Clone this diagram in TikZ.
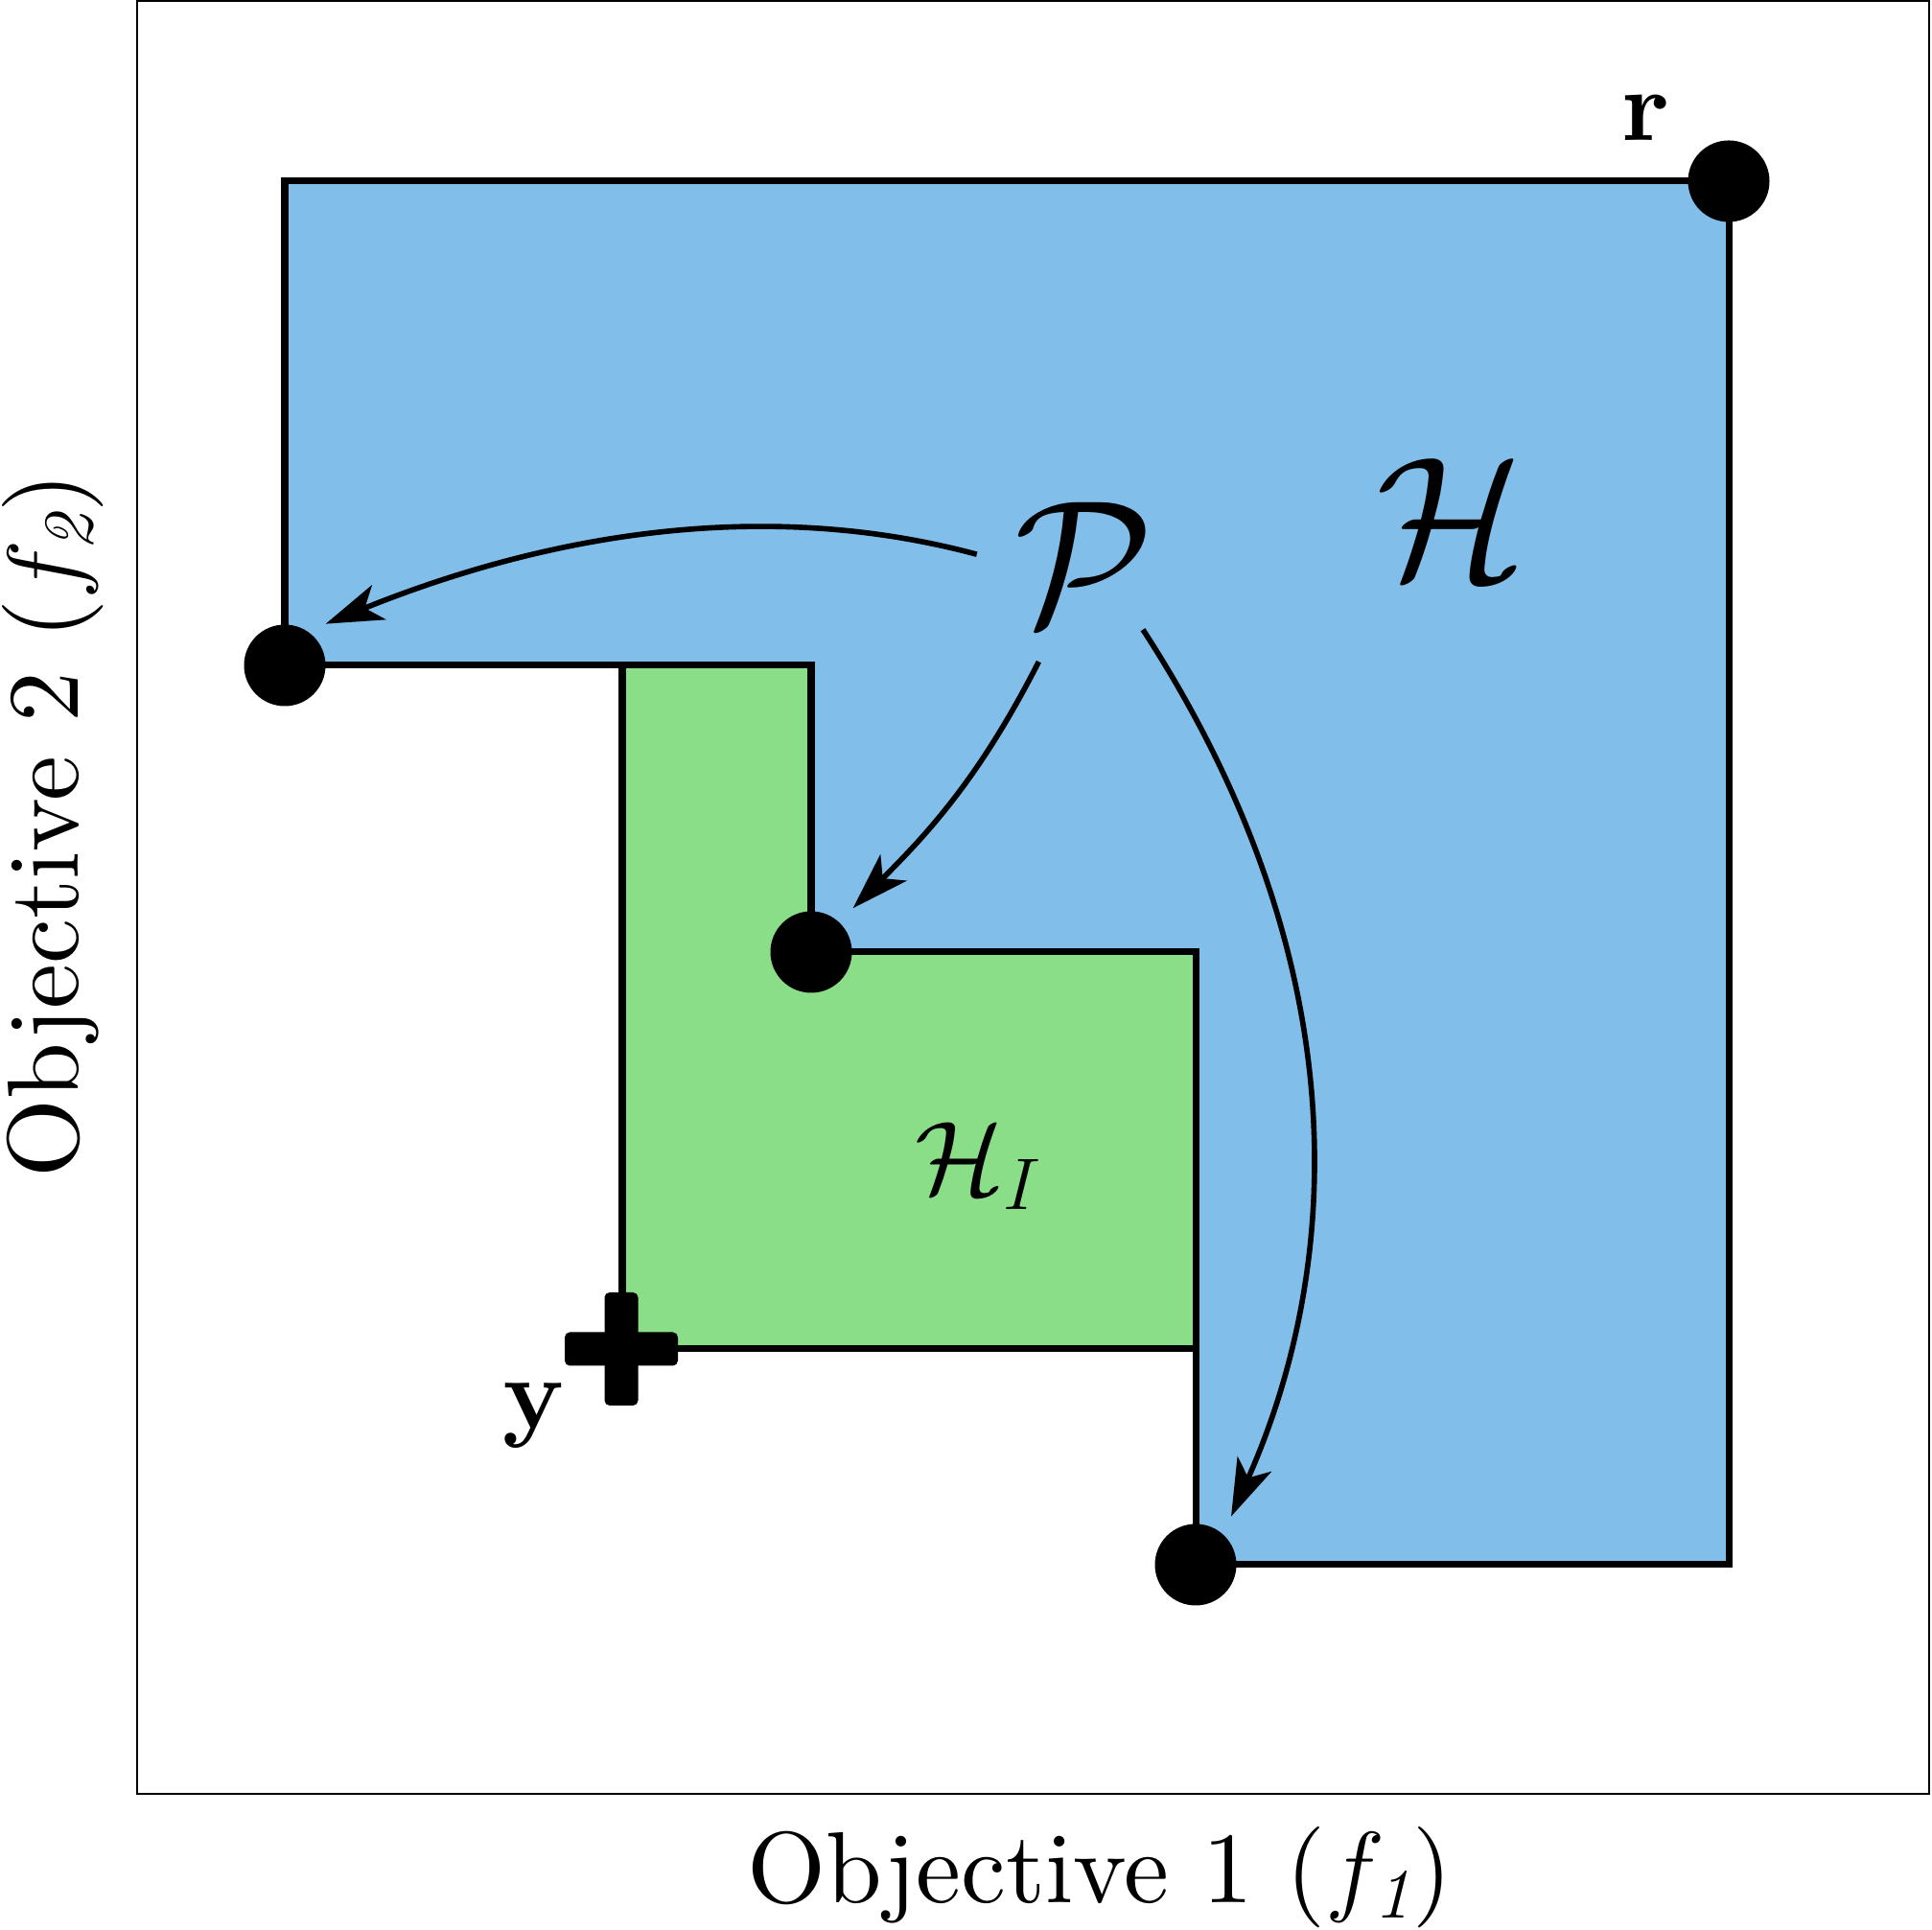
\documentclass[tikz,border=0pt]{standalone}
\usepackage{fix-cm}
\usepackage{amsmath, amssymb}
\usepackage{fontspec}
\setmainfont{lmroman10-regular}[Extension=.otf, BoldFont=lmroman10-bold, ItalicFont=lmroman10-italic]
\usepackage{tikz}
\usetikzlibrary{arrows.meta}
\usepackage{xcolor}

\definecolor{hvblue}{RGB}{130,190,234}
\definecolor{hvgreen}{RGB}{138,222,136}

\begin{document}
\begin{tikzpicture}[
    font=\fontsize{30}{36}\selectfont,
    paretopt/.style={circle, fill=black, inner sep=0pt, minimum size=0.85cm},
    pointer/.style={-{Stealth[length=17pt, width=11pt, inset=4.5pt]}, line width=1.6pt, shorten >=0.2cm},
    front/.style={line width=2pt, line join=miter}
]
    \useasboundingbox (0,0) rectangle (20.15,20.13);
    \draw[line width=0.75pt] (1.43,1.42) rectangle (20.12,20.12);

    % dominated region H
    \draw[front, fill=hvblue] (2.97,18.24) -- (18.03,18.24) -- (18.03,3.81) -- (12.47,3.81)
        -- (12.47,10.20) -- (8.46,10.20) -- (8.46,13.19) -- (2.97,13.19) -- cycle;

    % improvement H_I of y
    \draw[front, fill=hvgreen] (6.49,13.19) -- (8.46,13.19) -- (8.46,10.20) -- (12.47,10.20)
        -- (12.47,6.06) -- (6.49,6.06) -- cycle;

    % new point y
    \coordinate (ypt) at (6.48,6.06);
    \begin{scope}[shift={(ypt)}]
        \fill[rounded corners=1.5pt] (-0.59,-0.175) rectangle (0.59,0.175);
        \fill[rounded corners=1.5pt] (-0.175,-0.59) rectangle (0.175,0.59);
    \end{scope}

    % Pareto front and reference point
    \node[paretopt] (ptA) at (2.97,13.19) {};
    \node[paretopt] (ptB) at (8.46,10.20) {};
    \node[paretopt] (ptC) at (12.47,3.81) {};
    \node[paretopt] (ref) at (18.03,18.24) {};

    \node[anchor=base] (rlab) at (17.16,18.66) {$\mathbf{r}$};
    \node[anchor=base] (ylab) at (5.56,5.23) {$\mathbf{y}$};

    \node[circle, minimum size=2.24cm, inner sep=0pt, font=\fontsize{53}{64}\selectfont] (P) at (11.31,14.25) {$\mathcal{P}$};
    \node[font=\fontsize{52}{62}\selectfont] (hv) at (15.14,14.72) {$\mathcal{H}$};
    \node[font=\fontsize{31}{37}\selectfont] (hvi) at (10.21,7.97) {$\mathcal{H}_{I}$};

    % P points to its members
    \draw[pointer] (P.175) to[out=165, in=22, looseness=0.9] (ptA.56);
    \draw[pointer] (P.245) to[out=243, in=45] (ptB.47);
    \draw[pointer, shorten <=-0.21cm] (P.310) .. controls +(303:4) and +(66:3) .. (ptC.48);

    % axes
    \node[anchor=base] (xaxis) at (11.47,0.28) {Objective 1 ($f_{\mathit{1}}$)};
    \node[anchor=base, rotate=90] (yaxis) at (0.81,11.52) {Objective 2 ($f_{\mathit{2}}$)};
\end{tikzpicture}
\end{document}
